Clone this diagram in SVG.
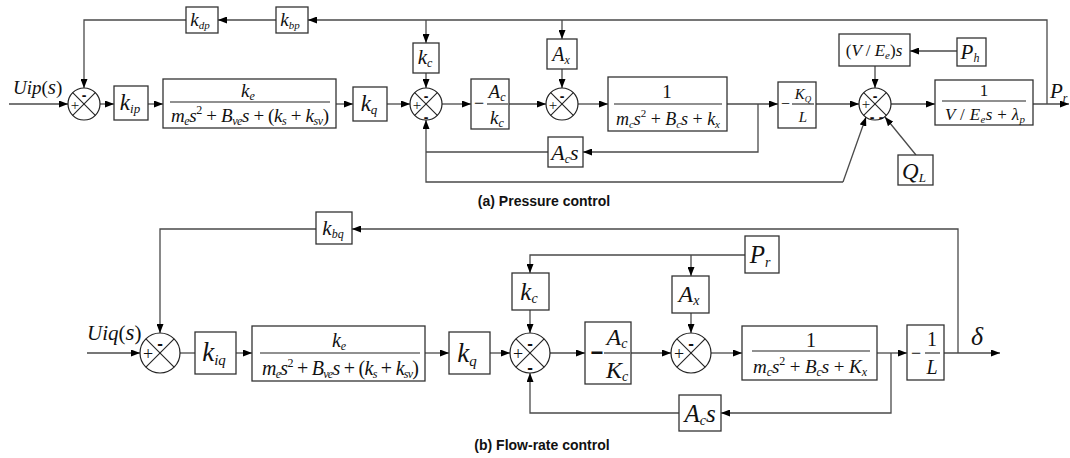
<svg xmlns="http://www.w3.org/2000/svg" xmlns:xlink="http://www.w3.org/1999/xlink" width="1070" height="458" viewBox="0 0 1070 458">
<style>
.ln{stroke:#4a4a4a;stroke-width:1.3;fill:none}
.la{stroke:#4a4a4a;stroke-width:1.3;fill:none;marker-end:url(#ah)}
.bx{fill:#fff;stroke:#333;stroke-width:1.3}
.sc{fill:#fff;stroke:#222;stroke-width:1.2}
.sx{stroke:#222;stroke-width:1.1}
.fl{stroke:#222;stroke-width:1.1}
.m{font-family:"Liberation Serif","Times New Roman",serif;font-style:italic;fill:#111}
.u{font-style:normal}
.sg{font-family:"Liberation Sans",Arial,sans-serif;font-weight:bold;fill:#111;text-anchor:middle}
.pl{font-family:"Liberation Serif",serif;fill:#111;text-anchor:middle}
.cap{font-family:"Liberation Sans",Arial,sans-serif;font-weight:bold;font-size:14px;fill:#111;text-anchor:middle}
</style>
<defs>
<marker id="ah" markerUnits="userSpaceOnUse" markerWidth="9" markerHeight="7" refX="9" refY="3.5" orient="auto">
<path d="M0,0 L9,3.5 L0,7 z" fill="#000"/>
</marker>
<g id="s16"><circle r="16" class="sc"/><line x1="-11.3" y1="-11.3" x2="11.3" y2="11.3" class="sx"/><line x1="-11.3" y1="11.3" x2="11.3" y2="-11.3" class="sx"/></g>
<g id="s20"><circle r="20" class="sc"/><line x1="-14.1" y1="-14.1" x2="14.1" y2="14.1" class="sx"/><line x1="-14.1" y1="14.1" x2="14.1" y2="-14.1" class="sx"/></g>
</defs>
<rect width="1070" height="458" fill="#fff"/>

<g id="connectors">
<path class="la" d="M9,104 H68"/>
<path class="la" d="M100,104 H114"/>
<path class="la" d="M148,104 H163"/>
<path class="la" d="M336,104 H353"/>
<path class="la" d="M387,104 H410"/>
<path class="la" d="M426,20 V43"/>
<path class="la" d="M426,73 V88"/>
<path class="la" d="M442,104 H471"/>
<path class="la" d="M562,20 V39"/>
<path class="la" d="M562,69 V88"/>
<path class="la" d="M509,104 H546"/>
<path class="la" d="M578,104 H608"/>
<path class="la" d="M727,104 H778"/>
<path class="la" d="M758,104 V152 H583"/>
<path class="ln" d="M548,152 H426"/>
<path class="la" d="M843,182 H426 V120"/>
<path class="la" d="M843,182 L866,117"/>
<path class="la" d="M916,155 L885,117"/>
<path class="la" d="M816,104 H859"/>
<path class="la" d="M875,66 V88"/>
<path class="la" d="M957,51 H910"/>
<path class="la" d="M891,104 H935"/>
<path class="la" d="M1033,104 H1069"/>
<path class="la" d="M1047,104 V20 H308"/>
<path class="la" d="M276,20 H218"/>
<path class="la" d="M186,20 H84 V88"/>

<path class="la" d="M87,353 H140"/>
<path class="ln" d="M180,353 H195"/>
<path class="la" d="M236,353 H252"/>
<path class="la" d="M425,353 H449"/>
<path class="la" d="M490,353 H510"/>
<path class="la" d="M745,255 H530 V273"/>
<path class="la" d="M530,310 V333"/>
<path class="la" d="M550,353 H585"/>
<path class="la" d="M631,353 H671"/>
<path class="la" d="M691,255 V276"/>
<path class="la" d="M691,313 V333"/>
<path class="la" d="M711,353 H742"/>
<path class="la" d="M877,353 H907"/>
<path class="la" d="M891,353 V413 H721"/>
<path class="la" d="M679,413 H530 V373"/>
<path class="la" d="M944,353 H1000"/>
<path class="la" d="M958,353 V229 H352"/>
<path class="la" d="M316,229 H160 V333"/>
</g>

<!-- ===== (a) Pressure control ===== -->
<g id="in_a"><text class="m" x="13" y="94" font-size="19">Uip<tspan class="u">(</tspan><tspan font-size="21">s</tspan><tspan class="u">)</tspan></text></g>

<g id="sum_a1"><use xlink:href="#s16" x="84" y="104"/><text class="sg" x="84" y="100" font-size="14">-</text><text class="pl" x="75" y="110" font-size="15">+</text></g>

<g id="kip"><rect class="bx" x="114" y="86" width="34" height="34"/><text class="m" x="130" y="110" font-size="23" text-anchor="middle">k<tspan font-size="13" dy="3">ip</tspan></text></g>

<g id="ge_a"><rect class="bx" x="163" y="79" width="173" height="49"/>
<text class="m" x="248" y="97" font-size="19" text-anchor="middle">k<tspan font-size="12" dy="3">e</tspan></text>
<line class="fl" x1="170" y1="102" x2="330" y2="102"/>
<text class="m" x="171" y="122" font-size="19" textLength="158" lengthAdjust="spacing">m<tspan font-size="12" dy="3">e</tspan><tspan dy="-3">s</tspan><tspan class="u" font-size="12" dy="-8">2</tspan><tspan class="u" dy="8"> + </tspan>B<tspan font-size="12" dy="3">ve</tspan><tspan dy="-3">s</tspan><tspan class="u"> + (</tspan>k<tspan font-size="12" dy="3">s</tspan><tspan class="u" dy="-3"> + </tspan>k<tspan font-size="12" dy="3">sv</tspan><tspan class="u" dy="-3">)</tspan></text></g>

<g id="kq_a"><rect class="bx" x="353" y="87" width="34" height="34"/><text class="m" x="369" y="111" font-size="23" text-anchor="middle">k<tspan font-size="13" dy="3">q</tspan></text></g>

<g id="sum_a2"><use xlink:href="#s16" x="426" y="104"/><text class="sg" x="426" y="101" font-size="14">-</text><text class="pl" x="417" y="110" font-size="15">+</text><text class="sg" x="426" y="122" font-size="14">-</text></g>

<g id="kc_a"><rect class="bx" x="413" y="43" width="26" height="30"/><text class="m" x="425" y="64" font-size="21" text-anchor="middle">k<tspan font-size="12" dy="3">c</tspan></text></g>

<g id="ackc_a"><rect class="bx" x="471" y="79" width="38" height="50"/>
<text class="m u" x="474" y="109" font-size="18">−</text>
<text class="m" x="497" y="98" font-size="19" text-anchor="middle">A<tspan font-size="12" dy="3">c</tspan></text>
<line class="fl" x1="487" y1="104" x2="508" y2="104"/>
<text class="m" x="497" y="124" font-size="19" text-anchor="middle">k<tspan font-size="12" dy="3">c</tspan></text></g>

<g id="sum_a3"><use xlink:href="#s16" x="562" y="104"/><text class="sg" x="562" y="101" font-size="14">-</text><text class="pl" x="553" y="110" font-size="15">+</text></g>

<g id="ax_a"><rect class="bx" x="547" y="39" width="30" height="30"/><text class="m" x="561" y="61" font-size="20" text-anchor="middle">A<tspan font-size="12" dy="3">x</tspan></text></g>

<g id="gm_a"><rect class="bx" x="608" y="77" width="119" height="54"/>
<text class="m u" x="667" y="98" font-size="19" text-anchor="middle">1</text>
<line class="fl" x1="614" y1="104" x2="722" y2="104"/>
<text class="m" x="616" y="125" font-size="18" textLength="104" lengthAdjust="spacing">m<tspan font-size="11" dy="3">c</tspan><tspan dy="-3">s</tspan><tspan class="u" font-size="11" dy="-8">2</tspan><tspan class="u" dy="8"> + </tspan>B<tspan font-size="11" dy="3">c</tspan><tspan dy="-3">s</tspan><tspan class="u"> + </tspan>k<tspan font-size="11" dy="3">x</tspan></text></g>

<g id="acs_a"><rect class="bx" x="548" y="137" width="35" height="30"/><text class="m" x="565" y="160" font-size="22" text-anchor="middle">A<tspan font-size="12" dy="3">c</tspan><tspan dy="-3">s</tspan></text></g>

<g id="kql_a"><rect class="bx" x="778" y="82" width="38" height="46"/>
<text class="m u" x="781" y="109" font-size="16">−</text>
<text class="m" x="803" y="99" font-size="15" text-anchor="middle">K<tspan font-size="9" dy="3">Q</tspan></text>
<line class="fl" x1="792" y1="104" x2="814" y2="104"/>
<text class="m" x="803" y="122" font-size="15" text-anchor="middle">L</text></g>

<g id="sum_a4"><use xlink:href="#s16" x="875" y="104"/><text class="sg" x="875" y="101" font-size="14">-</text><text class="pl" x="866" y="109" font-size="15">+</text><text class="sg" x="872" y="122" font-size="14">-</text><text class="sg" x="881" y="122" font-size="14">-</text></g>

<g id="ves_a"><rect class="bx" x="839" y="34" width="71" height="32"/><text class="m" x="874" y="56" font-size="17" text-anchor="middle"><tspan class="u">(</tspan>V <tspan class="u">/ </tspan>E<tspan font-size="11" dy="3">e</tspan><tspan class="u" dy="-3">)</tspan>s</text></g>

<g id="ph_a"><rect class="bx" x="957" y="38" width="29" height="28"/><text class="m" x="970" y="59" font-size="21" text-anchor="middle">P<tspan font-size="12" dy="3">h</tspan></text></g>

<g id="ql_a"><rect class="bx" x="898" y="155" width="35" height="30"/><text class="m" x="914" y="179" font-size="23" text-anchor="middle">Q<tspan font-size="13" dy="3">L</tspan></text></g>

<g id="gp_a"><rect class="bx" x="935" y="80" width="98" height="45"/>
<text class="m u" x="984" y="96" font-size="17" text-anchor="middle">1</text>
<line class="fl" x1="942" y1="101" x2="1026" y2="101"/>
<text class="m" x="945" y="120" font-size="17" textLength="80" lengthAdjust="spacing">V <tspan class="u">/ </tspan>E<tspan font-size="11" dy="3">e</tspan><tspan dy="-3">s</tspan><tspan class="u"> + </tspan>λ<tspan font-size="11" dy="3">p</tspan></text></g>

<g id="kbp"><rect class="bx" x="276" y="7" width="32" height="26"/><text class="m" x="290" y="26" font-size="19" text-anchor="middle">k<tspan font-size="11" dy="3">bp</tspan></text></g>
<g id="kdp"><rect class="bx" x="186" y="7" width="32" height="26"/><text class="m" x="200" y="26" font-size="19" text-anchor="middle">k<tspan font-size="11" dy="3">dp</tspan></text></g>

<g id="out_a"><text class="m" x="1050" y="98" font-size="21">P<tspan font-size="12" dy="4">r</tspan></text></g>

<text class="cap" x="544" y="206">(a) Pressure control</text>

<!-- ===== (b) Flow-rate control ===== -->
<g id="in_b"><text class="m" x="87" y="340" font-size="21">Uiq<tspan class="u">(</tspan><tspan font-size="23">s</tspan><tspan class="u">)</tspan></text></g>

<g id="sum_b1"><use xlink:href="#s20" x="160" y="353"/><text class="sg" x="160" y="349" font-size="17">-</text><text class="pl" x="148" y="360" font-size="18">+</text></g>

<g id="kbq"><rect class="bx" x="316" y="212" width="36" height="32"/><text class="m" x="333" y="235" font-size="21" text-anchor="middle">k<tspan font-size="12" dy="3">bq</tspan></text></g>

<g id="kiq"><rect class="bx" x="195" y="332" width="41" height="42"/><text class="m" x="214" y="361" font-size="27" text-anchor="middle">k<tspan font-size="15" dy="4">iq</tspan></text></g>

<g id="ge_b"><rect class="bx" x="252" y="326" width="173" height="55"/>
<text class="m" x="339" y="347" font-size="20" text-anchor="middle">k<tspan font-size="12" dy="3">e</tspan></text>
<line class="fl" x1="260" y1="353" x2="420" y2="353"/>
<text class="m" x="262" y="375" font-size="20" textLength="157" lengthAdjust="spacing">m<tspan font-size="12" dy="3">e</tspan><tspan dy="-3">s</tspan><tspan class="u" font-size="12" dy="-8">2</tspan><tspan class="u" dy="8"> + </tspan>B<tspan font-size="12" dy="3">ve</tspan><tspan dy="-3">s</tspan><tspan class="u"> + (</tspan>k<tspan font-size="12" dy="3">s</tspan><tspan class="u" dy="-3"> + </tspan>k<tspan font-size="12" dy="3">sv</tspan><tspan class="u" dy="-3">)</tspan></text></g>

<g id="kq_b"><rect class="bx" x="449" y="332" width="41" height="42"/><text class="m" x="467" y="362" font-size="27" text-anchor="middle">k<tspan font-size="15" dy="4">q</tspan></text></g>

<g id="sum_b2"><use xlink:href="#s20" x="530" y="353"/><text class="sg" x="530" y="349" font-size="17">-</text><text class="pl" x="518" y="360" font-size="18">+</text><text class="sg" x="530" y="373" font-size="17">-</text></g>

<g id="kc_b"><rect class="bx" x="512" y="273" width="37" height="37"/><text class="m" x="529" y="300" font-size="25" text-anchor="middle">k<tspan font-size="14" dy="3">c</tspan></text></g>

<g id="ackc_b"><rect class="bx" x="585" y="322" width="46" height="62"/>
<text class="sg" x="597" y="360" font-size="22">−</text>
<text class="m" x="617" y="345" font-size="24" text-anchor="middle">A<tspan font-size="14" dy="3">c</tspan></text>
<line class="fl" x1="604" y1="353" x2="630" y2="353"/>
<text class="m" x="617" y="378" font-size="24" text-anchor="middle">K<tspan font-size="14" dy="3">c</tspan></text></g>

<g id="sum_b3"><use xlink:href="#s20" x="691" y="353"/><text class="sg" x="691" y="349" font-size="17">-</text><text class="pl" x="679" y="360" font-size="18">+</text></g>

<g id="ax_b"><rect class="bx" x="672" y="276" width="37" height="37"/><text class="m" x="689" y="302" font-size="24" text-anchor="middle">A<tspan font-size="14" dy="3">x</tspan></text></g>

<g id="pr_b"><rect class="bx" x="745" y="236" width="34" height="37"/><text class="m" x="760" y="263" font-size="25" text-anchor="middle">P<tspan font-size="14" dy="4">r</tspan></text></g>

<g id="gm_b"><rect class="bx" x="742" y="326" width="135" height="54"/>
<text class="m u" x="811" y="347" font-size="20" text-anchor="middle">1</text>
<line class="fl" x1="752" y1="351" x2="870" y2="351"/>
<text class="m" x="753" y="373" font-size="19" textLength="114" lengthAdjust="spacing">m<tspan font-size="12" dy="3">c</tspan><tspan dy="-3">s</tspan><tspan class="u" font-size="12" dy="-8">2</tspan><tspan class="u" dy="8"> + </tspan>B<tspan font-size="12" dy="3">c</tspan><tspan dy="-3">s</tspan><tspan class="u"> + </tspan>K<tspan font-size="12" dy="3">x</tspan></text></g>

<g id="acs_b"><rect class="bx" x="679" y="395" width="42" height="36"/><text class="m" x="700" y="422" font-size="25" text-anchor="middle">A<tspan font-size="14" dy="3">c</tspan><tspan dy="-3">s</tspan></text></g>

<g id="l_b"><rect class="bx" x="907" y="325" width="37" height="55"/>
<text class="m u" x="911" y="359" font-size="18">−</text>
<text class="m u" x="932" y="346" font-size="20" text-anchor="middle">1</text>
<line class="fl" x1="925" y1="353" x2="940" y2="353"/>
<text class="m" x="932" y="374" font-size="20" text-anchor="middle">L</text></g>

<g id="out_b"><text class="m" x="971" y="345" font-size="26">δ</text></g>

<text class="cap" x="542" y="450">(b) Flow-rate control</text>
</svg>
